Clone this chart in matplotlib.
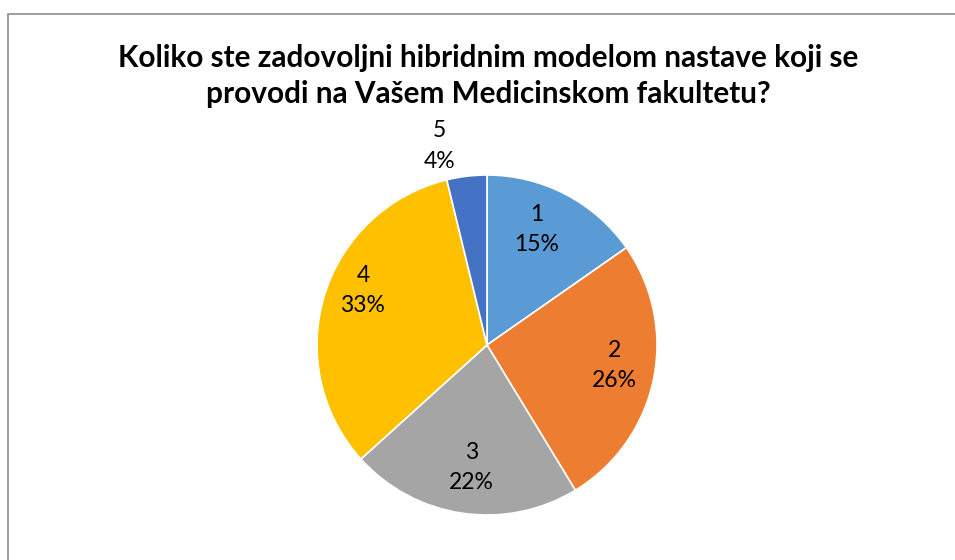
import matplotlib
matplotlib.use("Agg")
import matplotlib.pyplot as plt
from matplotlib.patches import Rectangle

# data (share of answers, %)
categories = ["1", "2", "3", "4", "5"]
shares = [15.3, 26.0, 22.0, 32.9, 3.8]
pct_labels = ["15%", "26%", "22%", "33%", "4%"]
colors = ["#5B9BD5", "#ED7D31", "#A5A5A5", "#FFC000", "#4472C4"]

title = "Koliko ste zadovoljni hibridnim modelom nastave koji se\nprovodi na Vašem Medicinskom fakultetu?"

# label centres in units of the pie radius (Excel best-fit placement)
label_pos = [(0.29, 0.68), (0.75, -0.12), (-0.09, -0.72), (-0.73, 0.32), (-0.28, 1.17)]

plt.rcParams["font.family"] = ["Lato", "DejaVu Sans"]

fig = plt.figure(figsize=(9.55, 5.6), dpi=100)
fig.patch.set_facecolor("white")

# chart area border (runs off the right and bottom edge)
fig.patches.append(Rectangle((8 / 955, -0.1), 1.2, (560 - 14) / 560 + 0.1,
                             transform=fig.transFigure, fill=False,
                             edgecolor="#8c8c8c", linewidth=1.2))

ax = fig.add_axes([(487 - 170) / 955, (560 - 515) / 560, 340 / 955, 340 / 560])
wedges, _ = ax.pie(shares, colors=colors, startangle=90, counterclock=False,
                   radius=1.0, wedgeprops=dict(edgecolor="white", linewidth=1.2))
ax.set_xlim(-1, 1)
ax.set_ylim(-1, 1)
ax.set_aspect("auto")
ax.axis("off")

for cat, pct, (x, y) in zip(categories, pct_labels, label_pos):
    ax.text(x, y, f"{cat}\n{pct}", ha="center", va="center", fontsize=16.5,
            linespacing=1.55, color="#000000", clip_on=False)

fig.text(488 / 955, 1 - 76 / 560, title, ha="center", va="center",
         fontsize=21.4, fontweight="bold", linespacing=1.38)

fig.savefig("out.png", dpi=100)
